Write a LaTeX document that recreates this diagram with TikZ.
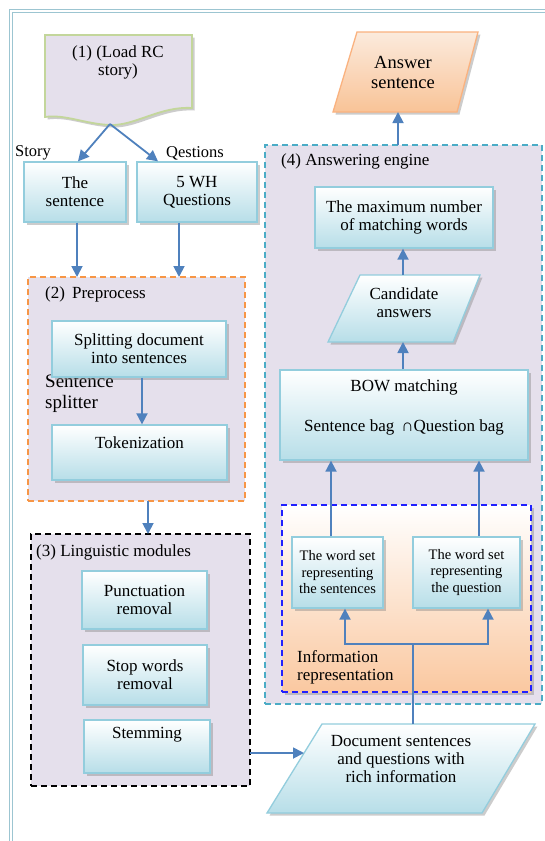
\documentclass[tikz,border=0pt]{standalone}
\usepackage{fontspec}
\setmainfont{Liberation Serif}
\usetikzlibrary{arrows.meta,shadows,calc}
\definecolor{arrowc}{HTML}{4F81BD}
\definecolor{boxline}{HTML}{93CDDD}
\definecolor{boxbot}{HTML}{B7DEE8}
\definecolor{lav}{HTML}{E5E0EC}
\definecolor{orng}{HTML}{F79646}
\definecolor{cyanb}{HTML}{4BACC6}
\definecolor{peach}{HTML}{FAC8A0}
\definecolor{greenb}{HTML}{C3D69B}
\definecolor{pageb}{HTML}{9CC5D1}
\definecolor{dblue}{HTML}{2020FF}
\definecolor{anstop}{HTML}{FBEBDD}
\definecolor{ansbot}{HTML}{F9C397}
\definecolor{ansline}{HTML}{FAB27F}
\begin{document}
\begin{tikzpicture}[x=1pt,y=-1pt,
  shad/.style={drop shadow={shadow xshift=2.5pt,shadow yshift=-2.5pt,opacity=0.4}},
  bx/.style={draw=boxline, line width=1.3pt, top color=white, bottom color=boxbot, shad,
    align=center, inner sep=0pt, font=\fontsize{17}{18}\selectfont},
  inv/.style={inner sep=0pt, outer sep=0pt},
  txt/.style={align=center, inner sep=0pt, font=\fontsize{17}{18}\selectfont},
  cont/.style={fill=lav, line width=1.8pt, dash pattern=on 6pt off 4pt, inner sep=0pt, outer sep=0pt},
  arr/.style={draw=arrowc, line width=1.8pt, -{Triangle[width=11pt,length=11pt]}},
  ln/.style={draw=arrowc, line width=1.8pt}
]
\useasboundingbox (0,0) rectangle (545,841);
\fill[white] (0,0) rectangle (545,841);
% page border
\draw[pageb, line width=1.3pt] (9.5,841) -- (9.5,9.5) -- (545,9.5);
\draw[pageb, line width=1.3pt] (12.5,841) -- (12.5,12.5) -- (545,12.5);

% helper coordinates
\coordinate (c77) at (77,0);
\coordinate (c179) at (179,0);
\coordinate (c142) at (142,0);
\coordinate (c148) at (148,0);
\coordinate (c753) at (0,753);
\coordinate (c413) at (413,0);
\coordinate (c345) at (345,0);
\coordinate (c488) at (488,0);
\coordinate (c331) at (331,0);
\coordinate (c479) at (479,0);
\coordinate (c403) at (403,0);
\coordinate (c398) at (398,0);

% containers
\node[cont, draw=orng, minimum width=217pt, minimum height=224pt] (prep) at (136.5,389) {};
\node[cont, draw=black, minimum width=219pt, minimum height=252pt] (ling) at (140.5,660) {};
\node[cont, draw=cyanb, minimum width=277pt, minimum height=559pt] (engine) at (403.5,424.5) {};
\node[cont, draw=dblue, top color=white, bottom color=peach, shad, minimum width=249pt, minimum height=187pt] (info) at (406.5,598.5) {};

% document shape (1)
\path[fill=lav, draw=greenb, line width=1.8pt, shad] (45,35) -- (192,35) -- (192,108)
  .. controls (160,106) and (135,126) .. (110,125)
  .. controls (85,124) and (65,114) .. (45,117) -- cycle;
\node[txt] (load) at (118,62) {(1) (Load RC\\story)};
\coordinate (docb) at (110,124);

% labels
\node[txt, font=\fontsize{16.5}{18}\selectfont] (lstory) at (33,153) {Story};
\node[txt, font=\fontsize{16.5}{18}\selectfont] (lqest) at (195,153) {Qestions};
\node[txt, anchor=west] (lprep) at (45,294) {(2)\, Preprocess};
\node[txt, anchor=west, align=left, font=\fontsize{19}{21}\selectfont] (lsplit) at (45,393.5) {Sentence\\splitter};
\node[txt, anchor=west] (lling) at (36,552) {(3) Linguistic modules};
\node[txt, anchor=west] (leng) at (281,161) {(4) Answering engine};
\begin{scope}
\clip (282,505) rectangle (531,683);
\node[txt, anchor=west, align=left] (linfo) at (297,667) {Information\\representation};
\end{scope}

% boxes
\node[bx, minimum width=102pt, minimum height=60pt] (sent) at (75,192) {The\\sentence};
\node[bx, minimum width=120pt, minimum height=60pt] (wh) at (197,192) {5 WH\\Questions};
\node[bx, minimum width=174pt, minimum height=56pt] (split) at (139,349) {Splitting document\\into sentences};
\node[bx, minimum width=175pt, minimum height=55pt] (tok) at (139.5,452.5) {Tokenization\\[-3pt]\strut};
\node[bx, minimum width=125pt, minimum height=58pt] (punct) at (144.5,600) {Punctuation\\removal};
\node[bx, minimum width=124pt, minimum height=60pt] (stop) at (145,675) {Stop words\\removal};
\node[bx, minimum width=126pt, minimum height=53pt] (stem) at (147,746.5) {Stemming\\[3pt]\strut};
\node[bx, minimum width=91pt, minimum height=71pt, font=\fontsize{14.5}{16.5}\selectfont] (ws1) at (337.5,572.5) {The word set\\representing\\the sentences};
\node[bx, minimum width=107pt, minimum height=71pt, font=\fontsize{14.5}{16.5}\selectfont] (ws2) at (466.5,572.5) {The word set\\representing\\the question};
\node[bx, minimum width=248pt, minimum height=90pt] (bow) at (404,415) {};
\node[txt] (bowt) at (404,407) {BOW matching\\[22pt]Sentence bag \,∩Question bag};
\node[bx, minimum width=178pt, minimum height=61pt] (maxn) at (404,217.5) {The maximum number\\of matching words};

% parallelograms
\node[inv, minimum width=152pt, minimum height=67pt] (cand) at (404,308.5) {};
\path[draw=boxline, line width=1.3pt, top color=white, bottom color=boxbot, shad]
  (360,275) -- (480,275) -- (453,342) -- (328,342) -- cycle;
\node[txt] (candt) at (404,303) {Candidate\\answers};

\node[inv, minimum width=145pt, minimum height=80pt] (ans) at (405.5,72) {};
\path[draw=ansline, line width=1.3pt, top color=anstop, bottom color=ansbot, shad]
  (357,32) -- (478,32) -- (457,112) -- (333,112) -- cycle;
\node[txt, font=\fontsize{18.5}{20}\selectfont] (anst) at (403,72) {Answer\\sentence};

\node[inv, minimum width=268pt, minimum height=89pt] (docs) at (401,768.5) {};
\path[draw=boxline, line width=1.3pt, top color=white, bottom color=boxbot, shad]
  (322,724) -- (535,724) -- (482,813) -- (267,813) -- cycle;
\node[txt] (docst) at (401,759) {Document sentences\\and questions with\\rich information};
\coordinate (docin) at (304,753);
\coordinate (sp) at (413,644);

% connectors
\draw[arr] (docb) -- ($(sent.north)+(3,0)$);
\draw[arr] (docb) -- ($(wh.north)+(-39,0)$);
\draw[arr] (sent.south -| c77) -- (prep.north -| c77);
\draw[arr] (wh.south -| c179) -- (prep.north -| c179);
\draw[arr] (split.south -| c142) -- (tok.north -| c142);
\draw[arr] (prep.south -| c148) -- (ling.north -| c148);
\draw[arr] (ling.east |- c753) -- (docin);
\draw[ln] (docs.north -| c413) -- (sp);
\draw[arr] (sp) -| (ws1.south -| c345);
\draw[arr] (sp) -| (ws2.south -| c488);
\draw[arr] (ws1.north -| c331) -- (bow.south -| c331);
\draw[arr] (ws2.north -| c479) -- (bow.south -| c479);
\draw[arr] (bow.north -| c403) -- (cand.south -| c403);
\draw[arr] (cand.north -| c403) -- (maxn.south -| c403);
\draw[arr] (engine.north -| c398) -- (ans.south -| c398);
\end{tikzpicture}
\end{document}
